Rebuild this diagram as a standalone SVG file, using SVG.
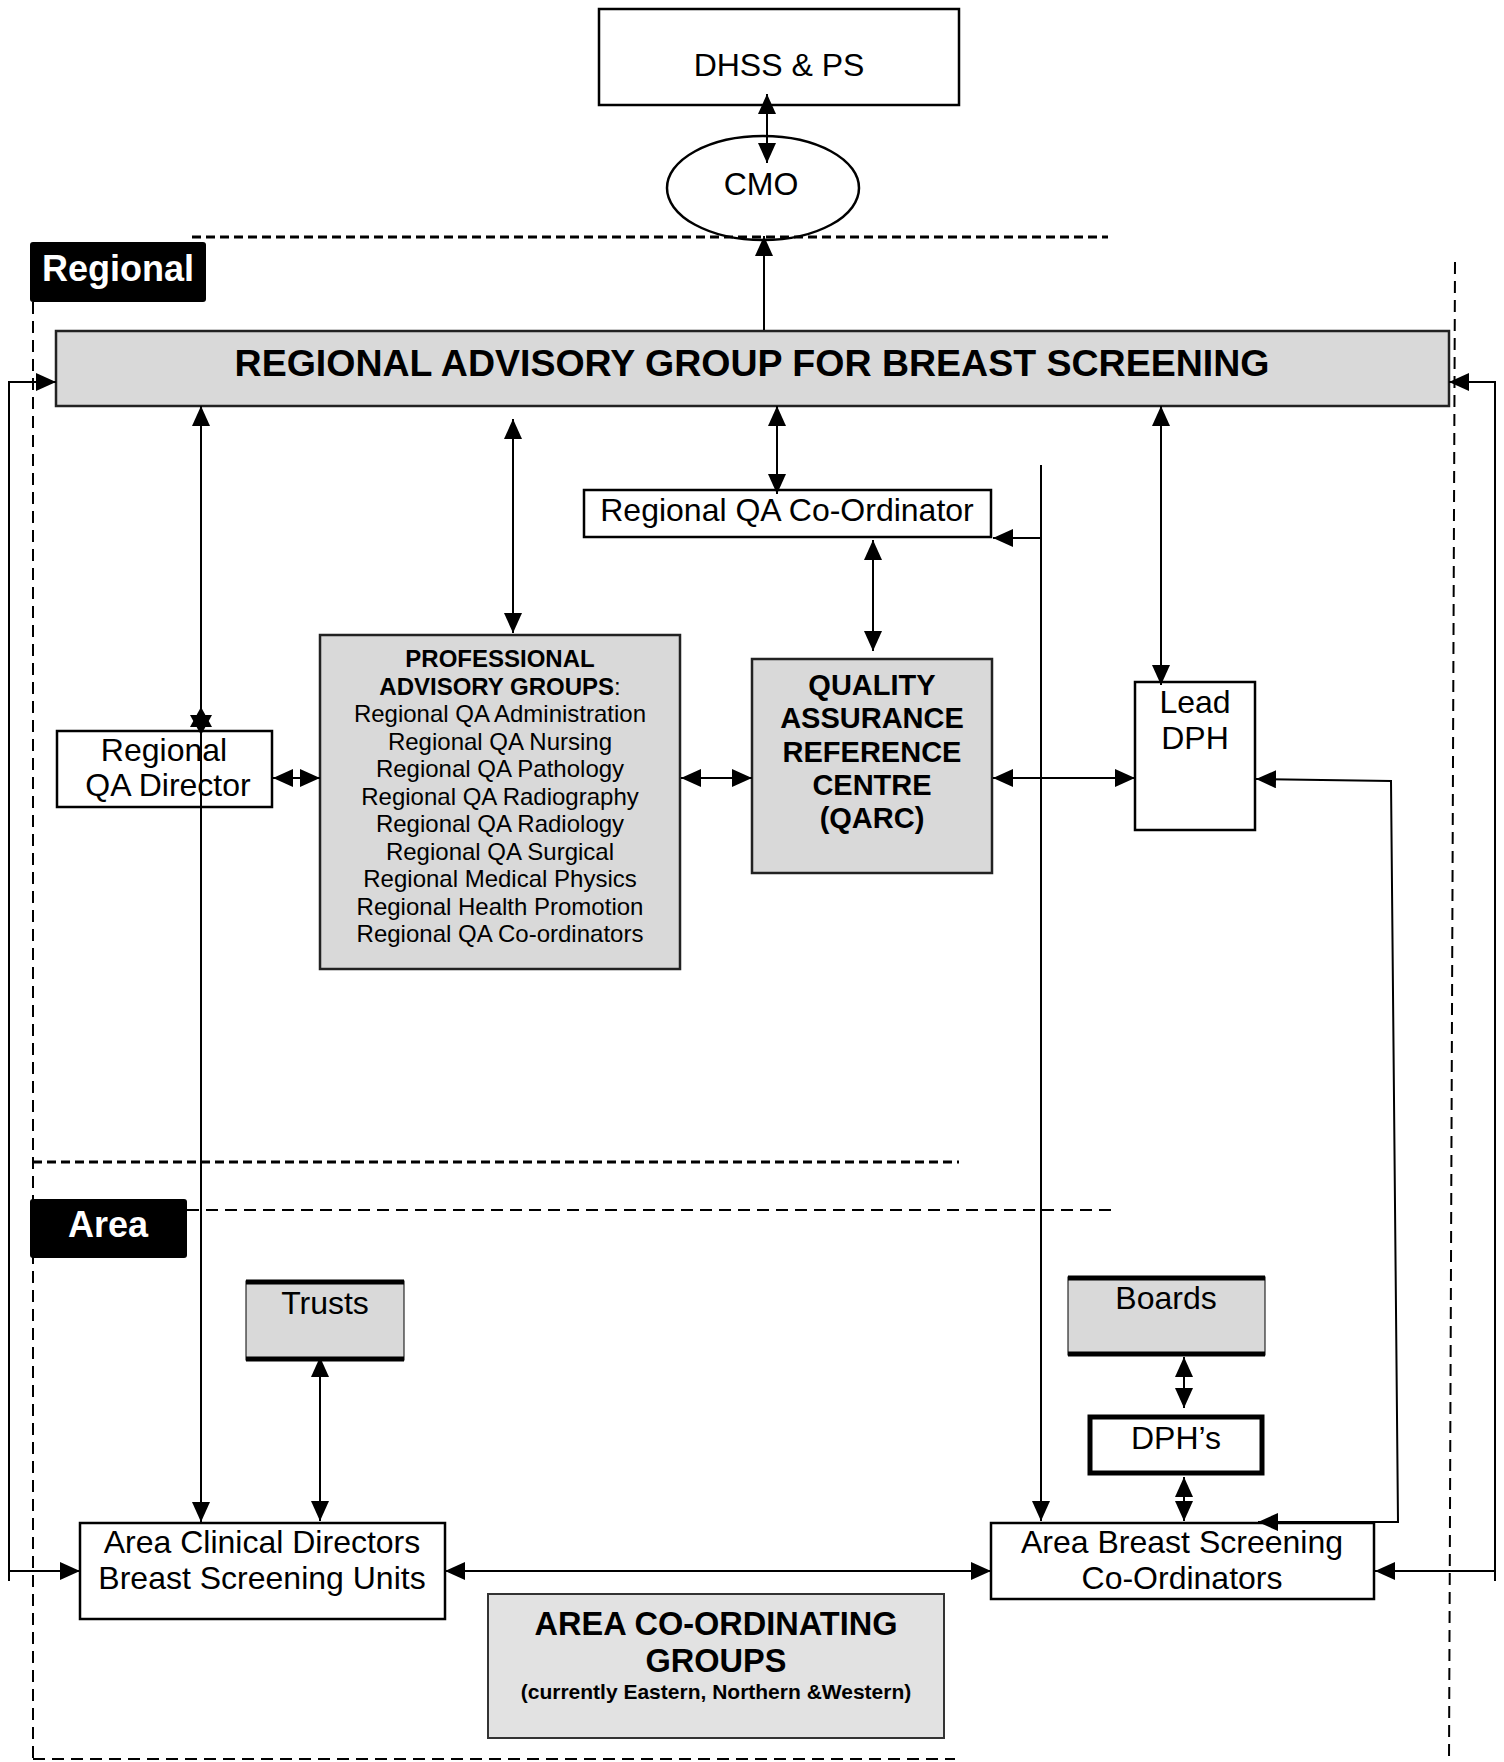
<svg xmlns="http://www.w3.org/2000/svg" width="1504" height="1762" viewBox="0 0 1504 1762">
<style>
text{font-family:"Liberation Sans",Arial,sans-serif;fill:#000}
.t32{font-size:32px;text-anchor:middle}
.t24{font-size:24px;text-anchor:middle}
.b{font-weight:bold}
.box{fill:#fff;stroke:#000;stroke-width:2.5}
.gbox{fill:#d9d9d9;stroke:#222;stroke-width:2.5}
.ln{fill:none;stroke:#000;stroke-width:2}
.dh{fill:none;stroke:#000;stroke-width:3;stroke-dasharray:9 5}
.dl{fill:none;stroke:#000;stroke-width:2;stroke-dasharray:12 7}
.lbl{fill:#000}
.lt{fill:#fff;font-size:36px;font-weight:bold;text-anchor:middle}
</style>
<defs>
<marker id="ah" viewBox="0 0 20 18" refX="20" refY="9" markerWidth="20" markerHeight="18" markerUnits="userSpaceOnUse" orient="auto-start-reverse"><path d="M0,0 L20,9 L0,18 z" fill="#000"/></marker>
</defs>

<g id="dashes">
<path class="dh" d="M192,237 H1108"/>
<path class="dh" d="M33,1162 H959"/>
<path class="dl" d="M187,1210 H1111"/>
<path class="dl" d="M33,1759 H955"/>
<path class="dl" d="M33,302 V1759"/>
<path class="dl" d="M1455,262 L1449,1762"/>
</g>

<g id="dhss">
<rect class="box" x="599" y="9" width="360" height="96"/>
<text class="t32" x="779" y="76">DHSS &amp; PS</text>
</g>

<g id="cmo">
<ellipse cx="763" cy="188" rx="96" ry="52" fill="none" stroke="#000" stroke-width="2.5"/>
<text class="t32" x="761" y="195">CMO</text>
</g>

<g id="label-regional">
<rect class="lbl" x="30" y="242" width="176" height="60" rx="3"/>
<text class="lt" x="118" y="281">Regional</text>
</g>

<g id="rag">
<rect class="gbox" x="56" y="331" width="1393" height="75"/>
<text x="752" y="376" font-size="37.5" font-weight="bold" text-anchor="middle">REGIONAL ADVISORY GROUP FOR BREAST SCREENING</text>
</g>

<g id="rqc">
<rect class="box" x="584" y="490" width="407" height="47"/>
<text class="t32" x="787" y="521">Regional QA Co-Ordinator</text>
</g>

<g id="rqd">
<rect x="57" y="731" width="215" height="76" fill="#fff" stroke="#000" stroke-width="2.5"/>
<text class="t32" x="164" y="761">Regional</text>
<text class="t32" x="168" y="796">QA Director</text>
</g>

<g id="pag">
<rect class="gbox" x="320" y="635" width="360" height="334"/>
<text class="t24 b" x="500" y="667">PROFESSIONAL</text>
<text class="t24" x="500" y="694.5"><tspan font-weight="bold">ADVISORY GROUPS</tspan>:</text>
<text class="t24" x="500" y="722">Regional QA Administration</text>
<text class="t24" x="500" y="749.5">Regional QA Nursing</text>
<text class="t24" x="500" y="777">Regional QA Pathology</text>
<text class="t24" x="500" y="804.5">Regional QA Radiography</text>
<text class="t24" x="500" y="832">Regional QA Radiology</text>
<text class="t24" x="500" y="859.5">Regional QA Surgical</text>
<text class="t24" x="500" y="887">Regional Medical Physics</text>
<text class="t24" x="500" y="914.5">Regional Health Promotion</text>
<text class="t24" x="500" y="942">Regional QA Co-ordinators</text>
</g>

<g id="qarc">
<rect class="gbox" x="752" y="659" width="240" height="214"/>
<g font-size="29" font-weight="bold" text-anchor="middle">
<text x="872" y="695">QUALITY</text>
<text x="872" y="728">ASSURANCE</text>
<text x="872" y="762">REFERENCE</text>
<text x="872" y="795">CENTRE</text>
<text x="872" y="828">(QARC)</text>
</g>
</g>

<g id="lead-dph">
<rect class="box" x="1135" y="682" width="120" height="148"/>
<text class="t32" x="1195" y="713">Lead</text>
<text class="t32" x="1195" y="749">DPH</text>
</g>

<g id="label-area">
<rect class="lbl" x="30" y="1199" width="157" height="59" rx="3"/>
<text class="lt" x="108" y="1237">Area</text>
</g>

<g id="trusts">
<rect x="246" y="1281" width="158" height="79" fill="#d9d9d9" stroke="#000" stroke-width="1"/>
<path d="M246,1282 H404 M246,1359 H404" stroke="#000" stroke-width="5"/>
<text class="t32" x="325" y="1314">Trusts</text>
</g>

<g id="boards">
<rect x="1068" y="1277" width="197" height="78" fill="#d9d9d9" stroke="#000" stroke-width="1"/>
<path d="M1068,1278 H1265 M1068,1354 H1265" stroke="#000" stroke-width="5"/>
<text class="t32" x="1166" y="1309">Boards</text>
</g>

<g id="dphs">
<rect x="1090" y="1417" width="172" height="56" fill="#fff" stroke="#000" stroke-width="5"/>
<text class="t32" x="1176" y="1449">DPH’s</text>
</g>

<g id="acd">
<rect class="box" x="80" y="1523" width="365" height="96"/>
<text class="t32" x="262" y="1553">Area Clinical Directors</text>
<text class="t32" x="262" y="1589">Breast Screening Units</text>
</g>

<g id="absc">
<rect class="box" x="991" y="1523" width="383" height="76"/>
<text class="t32" x="1182" y="1553">Area Breast Screening</text>
<text class="t32" x="1182" y="1589">Co-Ordinators</text>
</g>

<g id="acg">
<rect x="488" y="1594" width="456" height="144" fill="#e2e2e2" stroke="#333" stroke-width="2"/>
<text x="716" y="1635" font-size="32.5" font-weight="bold" text-anchor="middle">AREA CO-ORDINATING</text>
<text x="716" y="1672" font-size="32.5" font-weight="bold" text-anchor="middle">GROUPS</text>
<text x="716" y="1699" font-size="21" font-weight="bold" text-anchor="middle">(currently Eastern, Northern &amp;Western)</text>
</g>

<g id="connectors">
<path class="ln" d="M767,94 V163" marker-start="url(#ah)" marker-end="url(#ah)"/>
<path class="ln" d="M764,330 V236" marker-end="url(#ah)"/>
<path class="ln" d="M56,382 H9 V1581" marker-start="url(#ah)"/>
<path class="ln" d="M9,1571 H80" marker-end="url(#ah)"/>
<path class="ln" d="M1449,382 H1495 V1581" marker-start="url(#ah)"/>
<path class="ln" d="M1495,1571 H1375" marker-end="url(#ah)"/>
<path class="ln" d="M201,406 V1522" marker-start="url(#ah)" marker-end="url(#ah)"/>
<path d="M201,707 L190,727 L212,727 Z" fill="#000"/>
<path d="M201,735 L190,715 L212,715 Z" fill="#000"/>
<path class="ln" d="M513,419 V633" marker-start="url(#ah)" marker-end="url(#ah)"/>
<path class="ln" d="M777,406 V494" marker-start="url(#ah)" marker-end="url(#ah)"/>
<path class="ln" d="M873,540 V651" marker-start="url(#ah)" marker-end="url(#ah)"/>
<path class="ln" d="M1161,406 V685" marker-start="url(#ah)" marker-end="url(#ah)"/>
<path class="ln" d="M273,778 H320" marker-start="url(#ah)" marker-end="url(#ah)"/>
<path class="ln" d="M681,778 H752" marker-start="url(#ah)" marker-end="url(#ah)"/>
<path class="ln" d="M993,778 H1135" marker-start="url(#ah)" marker-end="url(#ah)"/>
<path class="ln" d="M1041,465 V1521" marker-end="url(#ah)"/>
<path class="ln" d="M1041,538 H993" marker-end="url(#ah)"/>
<path class="ln" d="M1256,779 L1391,781 L1398,1522 L1258,1522" marker-start="url(#ah)" marker-end="url(#ah)"/>
<path class="ln" d="M320,1357 V1521" marker-start="url(#ah)" marker-end="url(#ah)"/>
<path class="ln" d="M445,1571 H991" marker-start="url(#ah)" marker-end="url(#ah)"/>
<path class="ln" d="M1184,1357 V1408" marker-start="url(#ah)" marker-end="url(#ah)"/>
<path class="ln" d="M1184,1477 V1521" marker-start="url(#ah)" marker-end="url(#ah)"/>
</g>
</svg>
